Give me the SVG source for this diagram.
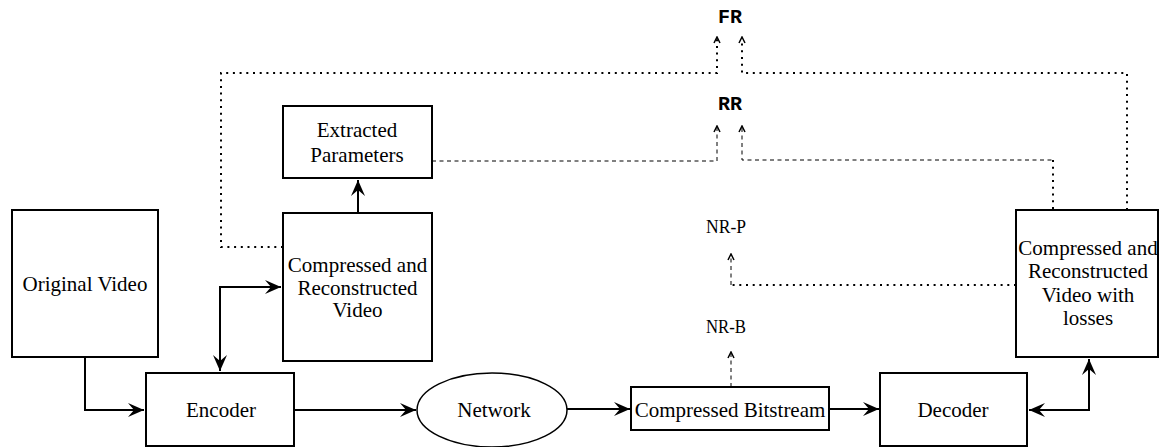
<svg xmlns="http://www.w3.org/2000/svg" width="1160" height="447" viewBox="0 0 1160 447">
<style>
.box{fill:#fff;stroke:#000;stroke-width:2}
.t{font-size:21px;fill:#000;text-anchor:middle}
.m{font-size:20px;font-weight:bold;fill:#000;text-anchor:middle}
.s{font-size:19px;fill:#000;text-anchor:middle}
.ln{fill:none;stroke:#000;stroke-width:2}
.dot{fill:none;stroke:#000;stroke-width:2;stroke-dasharray:2 4.7}
.dash{fill:none;stroke:#000;stroke-width:1;stroke-dasharray:4 3.5}
.hd{fill:none;stroke:none}
</style>
<defs>
<marker id="ah" viewBox="0 0 18 16" refX="17" refY="8" markerWidth="18" markerHeight="16" orient="auto-start-reverse" markerUnits="userSpaceOnUse">
<path d="M17,8 L1,1 L7,8 L1,15 Z" fill="#000"/>
</marker>
<marker id="sa" viewBox="0 0 8 8" refX="7" refY="4" markerWidth="8" markerHeight="8" orient="auto" markerUnits="userSpaceOnUse">
<path d="M1,1 L7,4 L1,7" fill="none" stroke="#000" stroke-width="1.5"/>
</marker>
</defs>
<rect width="1160" height="447" fill="#fff"/>
<g id="connectors">
<polyline class="ln" points="85,357 85,410 144,410" marker-end="url(#ah)"/>
<polyline class="ln" points="220,371 220,287 281,287" marker-start="url(#ah)" marker-end="url(#ah)"/>
<line class="ln" x1="358" y1="213" x2="358" y2="180" marker-end="url(#ah)"/>
<line class="ln" x1="294" y1="410" x2="416" y2="410" marker-end="url(#ah)"/>
<line class="ln" x1="567" y1="409" x2="630" y2="409" marker-end="url(#ah)"/>
<line class="ln" x1="829" y1="409" x2="879" y2="409" marker-end="url(#ah)"/>
<polyline class="ln" points="1029,410 1089,410 1089,359" marker-start="url(#ah)" marker-end="url(#ah)"/>
<polyline class="dot" points="283,247 221,247 221,73 717,73 717,39"/>
<polyline class="dot" points="1127,210 1127,73 742,73 742,39"/>
<path class="hd" d="M717,46 L717,37" marker-end="url(#sa)"/>
<path class="hd" d="M742,46 L742,37" marker-end="url(#sa)"/>
<polyline class="dash" points="432,161 717,161 717,128"/>
<polyline class="dash" points="742,128 742,160 1053,160"/>
<line class="dot" x1="1053" y1="160" x2="1053" y2="210"/>
<path class="hd" d="M717,135 L717,126" marker-end="url(#sa)"/>
<path class="hd" d="M742,135 L742,126" marker-end="url(#sa)"/>
<line class="dot" x1="1016" y1="285" x2="731" y2="285"/>
<line class="dash" x1="731" y1="285" x2="731" y2="256"/>
<path class="hd" d="M731,262 L731,254" marker-end="url(#sa)"/>
<line class="dash" x1="731" y1="387" x2="731" y2="354"/>
<path class="hd" d="M731,360 L731,352" marker-end="url(#sa)"/>
</g>
<g font-family="Liberation Serif, serif">
<g id="original-video">
<rect class="box" x="12" y="210" width="146" height="147"/>
<text class="t" x="85" y="291">Original Video</text>
</g>
<g id="encoder">
<rect class="box" x="146" y="373" width="148" height="73"/>
<text class="t" x="221" y="417">Encoder</text>
</g>
<g id="compressed-reconstructed">
<rect class="box" x="283" y="213" width="149" height="148"/>
<text class="t" x="357.5" y="272">Compressed and</text>
<text class="t" x="357.5" y="295">Reconstructed</text>
<text class="t" x="357.5" y="317">Video</text>
</g>
<g id="extracted-parameters">
<rect class="box" x="283" y="106" width="149" height="72"/>
<text class="t" x="357" y="137">Extracted</text>
<text class="t" x="357" y="162">Parameters</text>
</g>
<g id="network">
<ellipse cx="492" cy="410" rx="75" ry="37" fill="#fff" stroke="#000" stroke-width="1.5"/>
<text class="t" x="494" y="417">Network</text>
</g>
<g id="bitstream">
<rect class="box" x="631" y="387" width="198" height="43"/>
<text class="t" x="730" y="417">Compressed Bitstream</text>
</g>
<g id="decoder">
<rect class="box" x="880" y="373" width="147" height="73"/>
<text class="t" x="953" y="417">Decoder</text>
</g>
<g id="lossy-video">
<rect class="box" x="1016" y="210" width="142" height="147"/>
<text class="t" x="1088" y="255">Compressed and</text>
<text class="t" x="1088" y="278">Reconstructed</text>
<text class="t" x="1088" y="302">Video with</text>
<text class="t" x="1088" y="325">losses</text>
</g>
<g id="labels">
<text class="m" x="730" y="23" font-family="Liberation Mono, monospace">FR</text>
<text class="m" x="730" y="110" font-family="Liberation Mono, monospace">RR</text>
<text class="s" x="726" y="233" textLength="40" lengthAdjust="spacingAndGlyphs">NR-P</text>
<text class="s" x="726" y="333" textLength="40" lengthAdjust="spacingAndGlyphs">NR-B</text>
</g>
</g>
</svg>
